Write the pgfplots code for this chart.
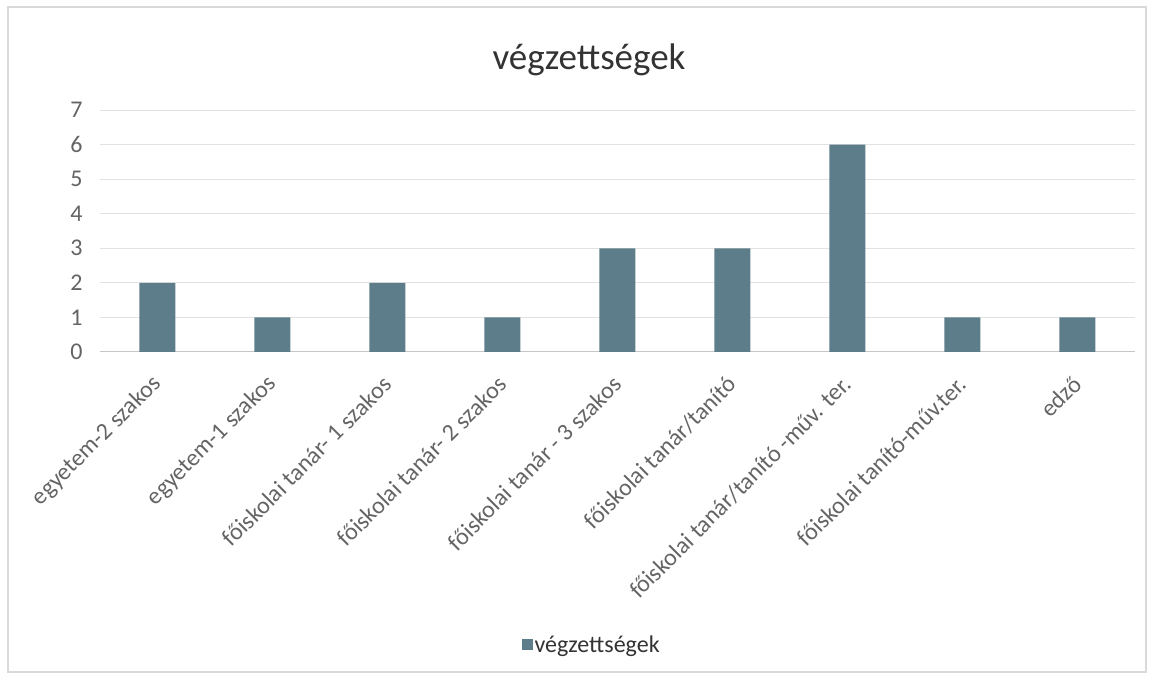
\documentclass[border=0pt]{standalone}
\usepackage{pgfplots}
\pgfplotsset{compat=1.18}
\usepackage{fontspec}
\setmainfont{Carlito}
\definecolor{barc}{RGB}{94,125,138}
\definecolor{tickc}{RGB}{100,100,100}
\definecolor{gridc}{RGB}{226,226,226}
\begin{document}
\begin{tikzpicture}[x=1pt,y=1pt]
\useasboundingbox (0,0) rectangle (1152,679);
\draw[gray!30, line width=1.2pt] (8,7) rectangle (1146,672);
\node[font=\fontsize{37}{42}\selectfont, text=black!80] at (589,619) {végzettségek};
\begin{axis}[
  at={(100pt,327pt)}, anchor=south west,
  scale only axis, width=1035pt, height=242pt,
  xmin=-0.5, xmax=8.5, ymin=0, ymax=7,
  ytick={0,1,...,7},
  xtick={0,...,8},
  xticklabels={egyetem-2 szakos, egyetem-1 szakos, főiskolai tanár- 1 szakos, főiskolai tanár- 2 szakos, főiskolai tanár - 3 szakos, főiskolai tanár/tanító, főiskolai tanár/tanító -műv. ter., főiskolai tanító-műv.ter., edző},
  /pgf/number format/assume math mode=true,
  ymajorgrids, major grid style={gridc, line width=1pt},
  axis x line=bottom, axis y line=left,
  x axis line style={-, draw=gray!45, line width=1pt},
  y axis line style={-, draw=none},
  major tick length=0pt,
  tick label style={font=\fontsize{24}{28}\selectfont, text=tickc},
  xticklabel style={rotate=45, anchor=east, inner sep=0pt, yshift=-20pt, xshift=-20pt},
  yticklabel style={xshift=-14pt},
  ybar, bar width=36pt,
  legend style={at={(0.475,-1.211)}, anchor=center, draw=none, fill=none,
    font=\fontsize{24}{28}\selectfont, text=black!80},
  legend image code/.code={\fill[barc] (0pt,-5pt) rectangle (11pt,6pt);},
]
\addplot[fill=barc, draw=none] coordinates {(0,2) (1,1) (2,2) (3,1) (4,3) (5,3) (6,6) (7,1) (8,1)};
\addlegendentry{végzettségek}
\end{axis}
\end{tikzpicture}
\end{document}
